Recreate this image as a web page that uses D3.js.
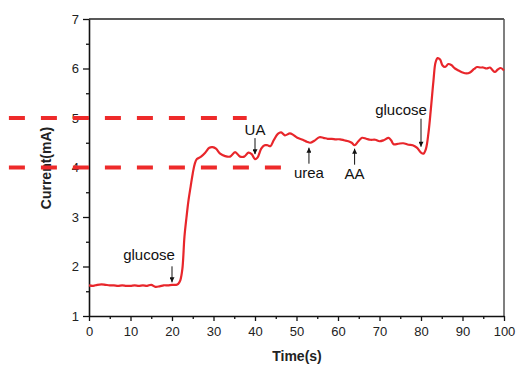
<!DOCTYPE html>
<html lang="en">
<head>
  <meta charset="UTF-8">
  <title>Current vs Time</title>
  <script src="https://d3js.org/d3.v7.min.js"></script>
  <style>
    body { margin: 0; background: #fff; }
    text { font-family: "Liberation Sans", Arial, sans-serif; }
  </style>
</head>
<body>
  <div class="main"></div>
<script>
  // data
  var timeS = [0, 1, 2, 3, 4, 5, 6, 7, 8, 9, 10, 11, 12, 13, 14, 15, 16, 17, 18, 19, 20, 21, 21.5, 22, 22.5, 23, 23.5, 24, 24.5, 25, 25.5, 26, 27, 28, 29, 29.8, 30.6, 31.6, 32.8, 34, 35.2, 36.4, 37.4, 38.4, 39.2, 40, 40.6, 41.5, 42.3, 43, 43.7, 44.5, 45.5, 46.3, 47.2, 48.4, 49.2, 50.2, 51.5, 52.5, 53.3, 54.3, 55.5, 56.5, 57.5, 58.5, 59.5, 60.5, 61.5, 62.5, 63.3, 64, 64.8, 65.8, 66.8, 67.8, 69, 70, 71, 72.2, 72.8, 73.4, 74.5, 75.7, 77, 78, 79, 80, 80.6, 81.2, 81.8, 82.4, 83, 83.5, 84, 84.6, 85.2, 85.8, 86.6, 87.3, 88.2, 89, 90, 91, 91.8, 92.8, 93.5, 94.3, 95, 95.8, 96.6, 97.2, 97.8, 98.5, 99.2, 100];
  var currentMA = [1.62, 1.61, 1.63, 1.64, 1.63, 1.62, 1.62, 1.61, 1.62, 1.61, 1.61, 1.62, 1.61, 1.62, 1.61, 1.63, 1.59, 1.6, 1.62, 1.62, 1.63, 1.63, 1.65, 1.72, 1.95, 2.6, 3.0, 3.35, 3.62, 3.88, 4.08, 4.17, 4.22, 4.3, 4.4, 4.41, 4.38, 4.28, 4.23, 4.22, 4.31, 4.22, 4.22, 4.3, 4.27, 4.17, 4.2, 4.38, 4.45, 4.45, 4.43, 4.55, 4.68, 4.71, 4.65, 4.69, 4.66, 4.6, 4.56, 4.52, 4.5, 4.54, 4.61, 4.6, 4.58, 4.58, 4.57, 4.57, 4.55, 4.53, 4.5, 4.45, 4.52, 4.6, 4.58, 4.56, 4.56, 4.53, 4.55, 4.6, 4.55, 4.47, 4.48, 4.49, 4.46, 4.45, 4.4, 4.3, 4.28, 4.38, 4.7, 5.2, 5.75, 6.12, 6.21, 6.18, 6.06, 6.03, 6.09, 6.07, 6.0, 5.96, 5.92, 5.9, 5.92, 5.99, 6.03, 6.02, 6.02, 6.0, 6.02, 5.97, 5.93, 5.98, 6.01, 5.96];

  var xTicks = [0, 10, 20, 30, 40, 50, 60, 70, 80, 90, 100];
  var yTicks = [1, 2, 3, 4, 5, 6, 7];

  // dashed reference levels (mA) and how far they run (in seconds)
  var refLevels = [5, 4];
  var refFrom = [-19.3, -19.3];
  var refTo = [38, 46.3];

  // annotations: label, time, current at arrow tip, arrow points down (1) or up (-1)
  var noteLabels = ["glucose", "UA", "urea", "AA", "glucose"];
  var noteTimes = [20, 40, 53, 64, 80];
  var noteTips = [1.68, 4.27, 4.4, 4.38, 4.42];
  var noteDirs = [1, 1, -1, -1, 1];

  let width = 516;
  let height = 365;
  let svg = d3.select(".main").append("svg").attr("width", width).attr("height", height);

  let x = d3.scaleLinear().domain([0, 100]).range([89, 504]);
  let y = d3.scaleLinear().domain([1, 7]).range([316, 19]);

  let defs = svg.append("defs");
  defs.append("marker").attr("id", "head").attr("viewBox", "0 0 10 10")
    .attr("refX", 10).attr("refY", 5).attr("markerWidth", 6).attr("markerHeight", 5)
    .attr("markerUnits", "userSpaceOnUse").attr("orient", "auto")
    .append("path").attr("d", "M0,0 L10,5 L0,10 z").attr("fill", "#111");

  // frame: top and right
  svg.append("line").attr("x1", x(0)).attr("y1", y(7)).attr("x2", x(100)).attr("y2", y(7))
    .style("stroke", "#222").style("stroke-width", 1.5);
  svg.append("line").attr("x1", x(100)).attr("y1", y(7)).attr("x2", x(100)).attr("y2", y(1))
    .style("stroke", "#555").style("stroke-width", 1.5);

  // minor ticks
  let xMinor = xTicks.slice(0, -1).map(d => d + 5);
  let yMinor = yTicks.slice(0, -1).map(d => d + 0.5);
  svg.append("g").attr("transform", "translate(0," + y(1) + ")")
    .call(d3.axisBottom(x).tickValues(xMinor).tickSize(3).tickFormat(""))
    .call(g => g.select(".domain").remove());
  svg.append("g").attr("transform", "translate(" + x(0) + ",0)")
    .call(d3.axisLeft(y).tickValues(yMinor).tickSize(3).tickFormat(""))
    .call(g => g.select(".domain").remove());

  // main axes
  let xAxis = svg.append("g").attr("transform", "translate(0," + y(1) + ")")
    .call(d3.axisBottom(x).tickValues(xTicks).tickSize(5).tickSizeOuter(0).tickPadding(6).tickFormat(d3.format("d")));
  let yAxis = svg.append("g").attr("transform", "translate(" + x(0) + ",0)")
    .call(d3.axisLeft(y).tickValues(yTicks).tickSize(6).tickSizeOuter(0).tickPadding(4).tickFormat(d3.format("d")));
  [xAxis, yAxis].forEach(function(g) {
    g.select(".domain").style("stroke", "#111").style("stroke-width", 1.6);
    g.selectAll("text").style("font-size", "13px").style("fill", "#222")
      .style("font-family", "'Liberation Sans', Arial, sans-serif");
  });
  svg.selectAll(".tick line").style("stroke", "#111").style("stroke-width", 1.3);

  // axis titles
  svg.append("text").attr("x", 297).attr("y", 361).attr("text-anchor", "middle")
    .style("font-size", "14px").style("font-weight", "bold").style("fill", "#222").text("Time(s)");
  svg.append("text").attr("transform", "translate(51,168) rotate(-90)").attr("text-anchor", "middle")
    .style("font-size", "14px").style("font-weight", "bold").style("fill", "#222").text("Current(mA)");

  // dashed reference lines
  for (let i = 0; i < refLevels.length; i++) {
    svg.append("line").attr("x1", x(refFrom[i])).attr("x2", x(refTo[i]))
      .attr("y1", y(refLevels[i])).attr("y2", y(refLevels[i]))
      .style("stroke", "#ee2a2a").style("stroke-width", 4).style("stroke-dasharray", "16,16");
  }

  // the curve
  let pts = timeS.map((t, i) => [t, currentMA[i]]);
  let line = d3.line().x(d => x(d[0])).y(d => y(d[1])).curve(d3.curveCatmullRom.alpha(0.5));
  svg.append("path").datum(pts).attr("d", line)
    .style("fill", "none").style("stroke", "#e8262b").style("stroke-width", 2.2);

  // annotations
  for (let i = 0; i < noteLabels.length; i++) {
    let px = x(noteTimes[i]);
    let tip = y(noteTips[i]);
    let tail = tip - noteDirs[i] * 16;
    if (noteTimes[i] == 80) tail = tip - 28;
    svg.append("line").attr("x1", px).attr("y1", tail).attr("x2", px).attr("y2", tip)
      .style("stroke", "#111").style("stroke-width", 1).attr("marker-end", "url(#head)");
    let ty = noteDirs[i] > 0 ? tail - 6 : tail + 14;
    if (noteTimes[i] == 80) ty = tail - 4;
    if (noteTimes[i] == 40) ty = tail - 3;
    let tx = px;
    if (noteTimes[i] == 20) tx = px - 23;
    if (noteTimes[i] == 80) tx = px - 20;
    svg.append("text").attr("x", tx).attr("y", ty).attr("text-anchor", "middle")
      .style("font-size", "15px").style("fill", "#111").text(noteLabels[i]);
  }
</script>
</body>
</html>
